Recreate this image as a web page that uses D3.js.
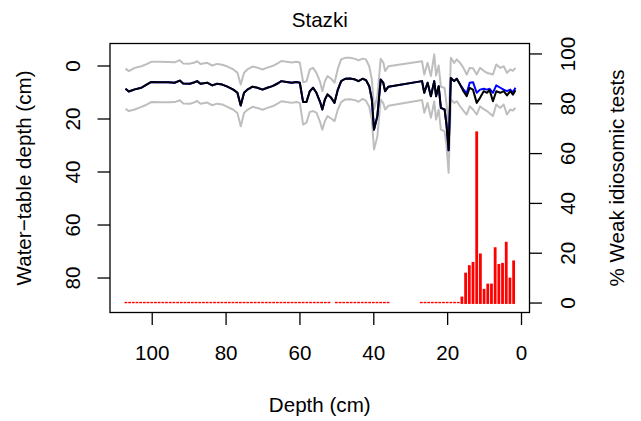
<!DOCTYPE html>
<html>
<head>
<meta charset="utf-8">
<script src="https://cdn.jsdelivr.net/npm/d3@7"></script>
<style>
  body { margin: 0; background: #fff; }
  text { font-family: "Liberation Sans", Arial, sans-serif; fill: #000; }
</style>
</head>
<body>
<div id="chart"></div>
<script>
// Data
// ==================================================================
const lineDepth = [107.1, 106.2, 104.6, 102.8, 101.4, 100.1, 97.8, 95.6, 93.8, 92.4,
    91.5, 89.7, 88.6, 87.7, 86.8, 85.0, 83.6, 82.3, 80.9, 79.5,
    77.9, 76.8, 75.9, 75.0, 74.1, 72.7, 71.4, 70.0, 68.7, 67.3,
    65.8, 64.9, 63.5, 62.1, 60.8, 59.9, 59.0, 58.1, 57.2, 56.3,
    55.4, 54.4, 53.8, 53.1, 52.4, 51.4, 50.5, 49.6, 48.7, 47.6,
    46.3, 44.9, 44.0, 42.9, 42.0, 41.1, 40.4, 39.8, 38.9, 38.0,
    37.3, 36.8, 35.9, 26.8, 26.2, 25.3, 24.4, 23.5, 23.0, 22.3,
    21.7, 20.7, 20.2, 19.6, 19.0, 18.1, 17.4, 16.5, 15.6, 14.7,
    13.9, 13.0, 12.0, 11.1, 10.1, 9.2, 8.5, 7.6, 6.7, 5.6,
    4.7, 3.8, 2.9, 2.2, 1.5];

// reconstructed water-table depth (black)
const blackWT = [8.8, 9.8, 9.0, 8.4, 7.2, 6.2, 6.3, 6.3, 6.5, 5.7,
    6.8, 6.9, 6.4, 5.9, 6.9, 6.5, 7.5, 6.9, 7.2, 8.0,
    9.1, 10.3, 15.1, 10.3, 9.1, 8.0, 8.4, 9.1, 8.4, 7.8,
    6.7, 5.9, 6.2, 6.5, 6.2, 6.5, 13.8, 13.8, 9.7, 8.4,
    10.3, 13.8, 16.6, 12.8, 10.9, 12.2, 14.1, 9.1, 5.9, 5.0,
    4.9, 5.3, 5.9, 5.0, 5.5, 7.8, 12.8, 24.2, 19.1, 5.3,
    6.5, 9.7, 8.0, 5.9, 10.3, 6.5, 11.6, 5.9, 11.6, 7.8,
    16.0, 16.6, 22.0, 32.0, 4.7, 5.9, 5.0, 7.2, 9.7, 11.6,
    8.4, 9.1, 14.1, 12.2, 9.7, 10.3, 9.3, 13.5, 9.7, 10.3,
    9.7, 11.3, 9.7, 11.0, 9.3];

// upper and lower error band (grey)
const upperWT = [1.2, 2.1, 0.9, 0.3, -0.5, -1.4, -1.4, -1.3, -1.2, -2.0,
    -0.8, -0.7, -1.0, -1.6, -0.6, -1.0, 0.0, -0.6, -0.3, 0.4,
    1.5, 2.7, 7.2, 2.7, 1.5, 0.4, 0.8, 1.5, 0.8, 0.2,
    -0.9, -1.7, -1.4, -1.1, -1.4, -1.1, 6.3, 6.0, 1.5, 0.9,
    2.8, 6.2, 9.7, 5.9, 4.0, 5.0, 6.5, 1.2, -2.3, -2.9,
    -2.9, -2.5, -1.9, -2.6, -2.3, 0.3, 5.2, 16.5, 11.5, -2.5,
    -1.2, 2.1, 0.3, -1.6, 3.4, -1.0, 4.0, -4.2, 3.8, 0.0,
    8.0, 8.5, 14.0, 24.0, -2.9, -1.0, -2.3, -1.0, 0.9, 3.4,
    0.9, 1.0, 3.4, 0.9, 2.0, 2.8, 3.0, 3.4, -0.4, 0.9,
    0.3, 2.8, 1.5, 2.0, 0.9];

const lowerWT = [16.3, 17.2, 16.6, 15.6, 14.8, 13.8, 13.9, 13.9, 13.8, 13.1,
    14.3, 14.4, 14.0, 13.4, 14.4, 14.0, 15.0, 14.4, 14.7, 15.6,
    16.7, 17.9, 22.9, 17.9, 16.7, 15.6, 16.0, 16.7, 16.0, 15.4,
    14.3, 13.5, 13.8, 14.1, 13.8, 14.1, 22.3, 21.6, 17.5, 17.2,
    17.8, 21.4, 24.2, 21.0, 19.1, 20.0, 21.0, 16.6, 13.8, 12.8,
    12.7, 13.1, 13.7, 12.6, 13.3, 15.6, 20.5, 31.7, 26.8, 12.8,
    14.2, 16.6, 15.2, 13.0, 17.8, 14.1, 19.7, 13.6, 20.4, 16.6,
    24.2, 24.8, 30.0, 40.5, 12.8, 14.1, 13.5, 15.4, 17.0, 18.5,
    15.4, 16.6, 18.5, 15.4, 16.5, 17.2, 18.0, 19.1, 14.7, 16.0,
    14.7, 18.5, 16.6, 17.0, 16.0];

// second reconstruction (blue), only differs from black in the top 16 cm
const blueTail = [9.0, 10.5, 6.5, 6.3, 10.3, 9.1, 8.8, 9.1, 8.8, 10.3,
    7.5, 8.4, 9.1, 9.7, 9.1, 10.1, 8.4];

// % weak idiosomic tests per sample
const redDepth = [107, 106, 105, 104, 103, 102, 101, 100, 99, 98, 97, 96, 95, 94, 93, 92,
    91, 90, 89, 88, 87, 86, 85, 84, 83, 82, 81, 80, 79, 78, 77, 76, 75, 74, 73, 72,
    71, 70, 69, 68, 67, 66, 65, 64, 63, 62, 61, 60, 59, 58, 57, 56, 55, 54, 53, 52,
    50, 49, 48, 47, 46, 45, 44, 43, 42, 41, 40, 39, 38, 37, 36,
    27, 26, 25, 24, 23, 22, 21, 20, 19, 18, 17,
    16, 15, 14, 13, 12, 11, 10, 9, 8, 7, 6, 5, 4, 3, 2];
const redPct = [0, 0, 0, 0, 0, 0, 0, 0, 0, 0, 0, 0, 0, 0, 0, 0,
    0, 0, 0, 0, 0, 0, 0, 0, 0, 0, 0, 0, 0, 0, 0, 0, 0, 0, 0, 0,
    0, 0, 0, 0, 0, 0, 0, 0, 0, 0, 0, 0, 0, 0, 0, 0, 0, 0, 0, 0,
    0, 0, 0, 0, 0, 0, 0, 0, 0, 0, 0, 0, 0, 0, 0,
    0, 0, 0, 0, 0, 0, 0, 0, 0, 0, 0,
    2.4, 12.0, 15.0, 16.3, 68.7, 19.7, 5.5, 7.6, 7.6, 22.2, 15.5, 15.9, 24.4, 10.0, 16.9];

const xTicks = [100, 80, 60, 40, 20, 0],
    leftTicks = [0, 20, 40, 60, 80],
    rightTicks = [0, 20, 40, 60, 80, 100];

// Layout
// ==================================================================
const W = 641, H = 421,
    box = {left: 110, right: 529.5, top: 43.5, bottom: 312.5},
    fontSize = 20.6;

let svg = d3.select("#chart")
    .append("svg")
        .attr("width", W)
        .attr("height", H);

// Scales
// ==================================================================
let xScale = d3.scaleLinear()
    .domain([111.3, -2.3])
    .range([box.left, box.right]);

let yScale = d3.scaleLinear()
    .domain([-8.3, 93.2])
    .range([box.top, box.bottom]);

let yRight = d3.scaleLinear()
    .domain([-4, 104])
    .range([box.bottom, box.top]);

// Lines
// ==================================================================
let line = d3.line()
    .x(d => xScale(d[0]))
    .y(d => yScale(d[1]));

const nBlackOnly = lineDepth.length - blueTail.length;
const series = [
    {color: "#bebebe", values: upperWT},
    {color: "#bebebe", values: lowerWT},
    {color: "#0000ff", values: blackWT.slice(0, nBlackOnly).concat(blueTail)},
    {color: "#000000", values: blackWT}
];

svg.selectAll("path.wt")
    .data(series)
    .enter()
    .append("path")
        .attr("class", "wt")
        .attr("fill", "none")
        .attr("stroke", d => d.color)
        .attr("stroke-width", 2)
        .attr("stroke-linejoin", "round")
        .attr("d", d => line(lineDepth.map((dep, i) => [dep, d.values[i]])));

// Bars (right axis)
// ==================================================================
svg.selectAll("rect.bar")
    .data(redDepth)
    .enter()
    .append("rect")
        .attr("class", "bar")
        .attr("x", d => xScale(d) - 1.4)
        .attr("width", 2.8)
        .attr("y", (d, i) => Math.min(yRight(redPct[i]), yRight(0) - 0.7))
        .attr("height", (d, i) => Math.max(yRight(0) - yRight(redPct[i]), 0) + 1.4)
        .attr("fill", "#ff0000");

// Box and axes
// ==================================================================
svg.append("rect")
    .attr("x", box.left)
    .attr("y", box.top)
    .attr("width", box.right - box.left)
    .attr("height", box.bottom - box.top)
    .attr("fill", "none")
    .attr("stroke", "#000")
    .attr("stroke-width", 1.3);

function style_axis(g) {
    g.select(".domain").remove();
    g.selectAll(".tick line").attr("stroke", "#000").attr("stroke-width", 1.3);
    g.selectAll(".tick text")
        .attr("font-size", fontSize + "px")
        .attr("font-family", "'Liberation Sans', Arial, sans-serif");
}

let xAxis = svg.append("g")
    .attr("transform", "translate(0," + box.bottom + ")")
    .call(d3.axisBottom(xScale).tickValues(xTicks).tickSize(12.5).tickSizeOuter(0))
    .call(style_axis);
xAxis.selectAll(".tick text")
    .attr("y", 47)
    .attr("dy", null);

let leftAxis = svg.append("g")
    .attr("transform", "translate(" + box.left + ",0)")
    .call(d3.axisLeft(yScale).tickValues(leftTicks).tickSize(12.5).tickSizeOuter(0))
    .call(style_axis);
leftAxis.selectAll(".tick text")
    .attr("x", null).attr("dy", null)
    .attr("text-anchor", "middle")
    .attr("transform", "translate(-30,0) rotate(-90)");

let rightAxis = svg.append("g")
    .attr("transform", "translate(" + box.right + ",0)")
    .call(d3.axisRight(yRight).tickValues(rightTicks).tickSize(12.5).tickSizeOuter(0))
    .call(style_axis);
rightAxis.selectAll(".tick text")
    .attr("x", null).attr("dy", null)
    .attr("text-anchor", "middle")
    .attr("transform", "translate(45.5,0) rotate(-90)");

// Titles
// ==================================================================
svg.append("text")
    .attr("x", (box.left + box.right) / 2)
    .attr("y", 27)
    .attr("text-anchor", "middle")
    .attr("font-size", fontSize + "px")
    .text("Stazki");

svg.append("text")
    .attr("x", (box.left + box.right) / 2)
    .attr("y", 412)
    .attr("text-anchor", "middle")
    .attr("font-size", fontSize + "px")
    .text("Depth (cm)");

svg.append("text")
    .attr("transform", "translate(31," + (box.top + box.bottom) / 2 + ") rotate(-90)")
    .attr("text-anchor", "middle")
    .attr("font-size", fontSize + "px")
    .text("Water\u2212table depth (cm)");

svg.append("text")
    .attr("transform", "translate(624," + (box.top + box.bottom) / 2 + ") rotate(-90)")
    .attr("text-anchor", "middle")
    .attr("font-size", fontSize + "px")
    .text("% Weak idiosomic tests");
</script>
</body>
</html>
